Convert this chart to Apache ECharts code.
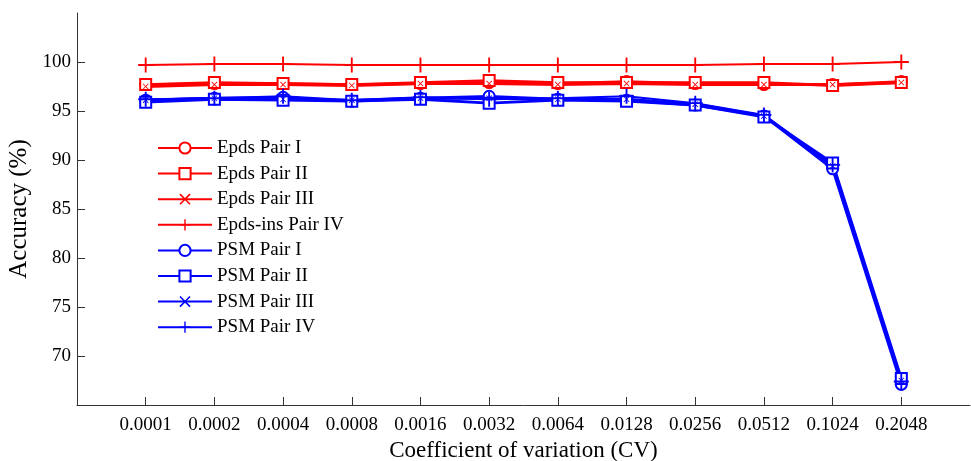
<!DOCTYPE html>
<html>
<head>
<meta charset="utf-8">
<script src="https://cdn.jsdelivr.net/npm/echarts@6/dist/echarts.min.js"></script>
<style>html,body{margin:0;padding:0;background:#fff;}#c{width:971px;height:461px;}</style>
</head>
<body>
<div id="c"></div>
<script>
const categories = ['0.0001','0.0002','0.0004','0.0008','0.0016','0.0032','0.0064','0.0128','0.0256','0.0512','0.1024','0.2048'];
const yTicks = [70, 75, 80, 85, 90, 95, 100];

const epdsPairI   = [97.7, 97.8, 97.8, 97.7, 97.8, 97.9, 97.8, 98.0, 97.8, 97.7, 97.7, 98.0];
const epdsPairII  = [97.7, 97.9, 97.8, 97.7, 97.9, 98.1, 97.9, 97.9, 97.9, 97.9, 97.6, 97.9];
const epdsPairIII = [97.5, 97.7, 97.7, 97.6, 97.8, 97.8, 97.7, 97.8, 97.7, 97.7, 97.7, 97.9];
const epdsInsPairIV = [99.7, 99.8, 99.8, 99.7, 99.7, 99.7, 99.7, 99.7, 99.7, 99.8, 99.8, 100.0];
const psmPairI   = [96.1, 96.3, 96.4, 96.0, 96.3, 96.5, 96.2, 96.1, 95.6, 94.5, 89.1, 67.1];
const psmPairII  = [95.9, 96.2, 96.1, 96.0, 96.2, 95.8, 96.1, 96.0, 95.6, 94.4, 89.7, 67.7];
const psmPairIII = [96.1, 96.3, 96.2, 96.1, 96.3, 96.3, 96.2, 96.2, 95.7, 94.5, 89.4, 67.5];
const psmPairIV  = [96.2, 96.3, 96.5, 96.1, 96.4, 96.2, 96.3, 96.5, 95.8, 94.6, 89.5, 67.4];

const seriesNames = ['Epds Pair I','Epds Pair II','Epds Pair III','Epds-ins Pair IV','PSM Pair I','PSM Pair II','PSM Pair III','PSM Pair IV'];
const seriesData = [epdsPairI, epdsPairII, epdsPairIII, epdsInsPairIV, psmPairI, psmPairII, psmPairIII, psmPairIV];

const RED = '#ff0000', BLUE = '#0000ff';
const PLUS = 'path://M7,0H9V7H16V9H9V16H7V9H0V7H7Z';
const XMARK = 'path://M1,0L5,4L9,0L10,1L6,5L10,9L9,10L5,6L1,10L0,9L4,5L0,1Z';
const symbols = [
  {s:'emptyCircle', size:11},
  {s:'emptyRect', size:11},
  {s:XMARK, size:6},
  {s:PLUS, size:15}
];

const xData = [''].concat(categories, ['']);
const series = seriesData.map((vals, i) => {
  const color = i < 4 ? RED : BLUE;
  const sym = symbols[i % 4];
  const filled = sym.s.indexOf('path://') === 0;
  return {
    name: seriesNames[i],
    type: 'line',
    data: ['-'].concat(vals),
    symbol: sym.s,
    symbolSize: sym.size,
    showAllSymbol: true,
    color: color,
    lineStyle: {color: color, width: (i % 4 === 3) ? 2 : 2.8},
    itemStyle: filled ? {color: color, borderWidth: 0} : {color: color, borderColor: color, borderWidth: 2},
    emphasis: {disabled: true},
    animation: false
  };
});

const chart = echarts.init(document.getElementById('c'), null, {renderer: 'canvas'});
chart.setOption({
  animation: false,
  backgroundColor: '#ffffff',
  grid: {left: 77, right: 1, top: 13, bottom: 56, containLabel: false, outerBoundsMode: 'none'},
  legend: {
    orient: 'vertical',
    left: 157,
    top: 138,
    padding: 0,
    itemWidth: 54,
    itemHeight: 14,
    itemGap: 5.6,
    textStyle: {fontFamily: 'Liberation Serif', fontSize: 19, color: '#000', lineHeight: 20},
    data: seriesNames
  },
  xAxis: {
    type: 'category',
    data: xData,
    boundaryGap: false,
    name: 'Coefficient of variation (CV)',
    nameLocation: 'middle',
    nameGap: 33,
    nameTextStyle: {fontFamily: 'Liberation Serif', fontSize: 23, color: '#000'},
    axisLine: {lineStyle: {color: '#333', width: 1}},
    axisTick: {inside: true, length: 8, lineStyle: {color: '#333'}, interval: (idx) => idx > 0 && idx < xData.length - 1},
    axisLabel: {fontFamily: 'Liberation Serif', fontSize: 19, color: '#000', margin: 11, interval: 0},
    splitLine: {show: false}
  },
  yAxis: {
    type: 'value',
    min: 65,
    max: 105,
    interval: 5,
    name: 'Accuracy (%)',
    nameLocation: 'middle',
    nameGap: 44,
    nameTextStyle: {fontFamily: 'Liberation Serif', fontSize: 25, color: '#000'},
    axisLine: {show: true, lineStyle: {color: '#333', width: 1}},
    axisTick: {show: true, inside: true, length: 8, lineStyle: {color: '#333'}, customValues: yTicks},
    axisLabel: {fontFamily: 'Liberation Serif', fontSize: 19, color: '#000', margin: 6, customValues: yTicks},
    splitLine: {show: false}
  },
  series: series
});
</script>
</body>
</html>
